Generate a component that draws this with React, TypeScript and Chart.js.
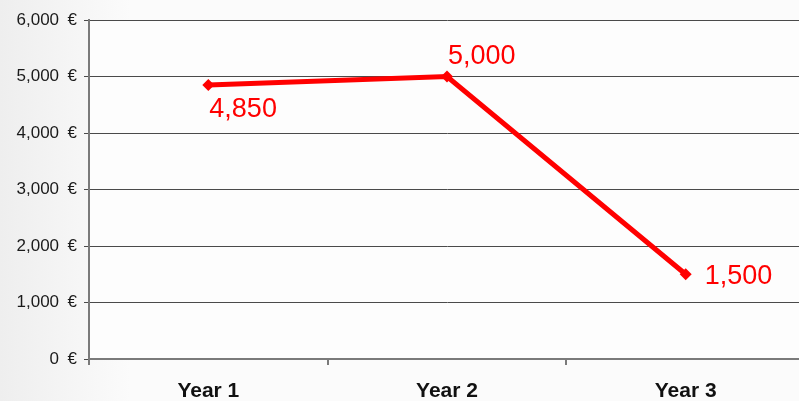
import React, { useEffect, useRef } from "react";
import { Chart, registerables } from "chart.js";

Chart.register(...registerables);

const categories = ["Year 1", "Year 2", "Year 3"];
const values = [4850, 5000, 1500];
const labelPlacement = ["below", "above", "right"];
const yTicks = [0, 1000, 2000, 3000, 4000, 5000, 6000];

const FONT = "'Liberation Sans', Arial, sans-serif";

const bgPlugin = {
  id: "bgPlugin",
  beforeDraw(chart: any) {
    const { ctx, width, height, chartArea } = chart;
    ctx.save();
    const g = ctx.createLinearGradient(0, 0, 130, 0);
    g.addColorStop(0, "#eeeeee");
    g.addColorStop(1, "#fbfbfb");
    ctx.fillStyle = g;
    ctx.fillRect(0, 0, width, height);
    ctx.fillStyle = "#fdfdfd";
    ctx.fillRect(chartArea.left, chartArea.top, chartArea.right - chartArea.left, chartArea.bottom - chartArea.top);
    ctx.restore();
  },
};

const labelPlugin = {
  id: "labelPlugin",
  afterDatasetsDraw(chart: any) {
    const { ctx } = chart;
    const meta = chart.getDatasetMeta(0);
    ctx.save();
    ctx.font = `27px ${FONT}`;
    ctx.fillStyle = "#ff0000";
    ctx.textAlign = "left";
    meta.data.forEach((pt: any, i: number) => {
      const text = values[i].toLocaleString("en-US");
      const place = labelPlacement[i];
      let x = pt.x;
      let y = pt.y;
      if (place === "below") {
        x = pt.x + 1;
        y = pt.y + 25;
      } else if (place === "above") {
        x = pt.x + 1;
        y = pt.y - 20;
      } else {
        x = pt.x + 19;
        y = pt.y + 2;
      }
      ctx.textBaseline = "middle";
      ctx.fillText(text, x, y);
    });
    ctx.restore();
  },
};

export default function App() {
  const ref = useRef<HTMLCanvasElement>(null);
  useEffect(() => {
    if (!ref.current) return;
    const chart = new Chart(ref.current, {
      type: "line",
      data: {
        labels: categories,
        datasets: [
          {
            data: values,
            borderColor: "#ff0000",
            backgroundColor: "#ff0000",
            borderWidth: 5,
            pointStyle: "rectRot",
            pointRadius: 6,
            pointBorderWidth: 0,
            tension: 0,
            fill: false,
          },
        ],
      },
      options: {
        animation: false,
        responsive: false,
        devicePixelRatio: 1,
        layout: { padding: { left: 0, top: 20, right: 0, bottom: 0 } },
        plugins: { legend: { display: false }, tooltip: { enabled: false } },
        scales: {
          x: {
            offset: true,
            grid: {
              offset: true,
              drawOnChartArea: false,
              drawTicks: true,
              tickLength: 6,
              color: "#7a7a7a",
              lineWidth: 2,
            },
            border: { display: true, color: "#7a7a7a", width: 2 },
            ticks: {
              color: "#111111",
              padding: 14,
              font: { family: FONT, size: 21, weight: "bold" },
            },
            afterFit(scale: any) {
              scale.height = 42;
            },
          },
          y: {
            min: 0,
            max: 6000,
            afterBuildTicks(scale: any) {
              scale.ticks = yTicks.map((v) => ({ value: v }));
            },
            grid: {
              color: "#4a4a4a",
              lineWidth: 1,
              tickLength: 5,
              drawTicks: true,
            },
            border: { display: true, color: "#7a7a7a", width: 2 },
            ticks: {
              color: "#1a1a1a",
              padding: 7,
              font: { family: FONT, size: 17 },
              callback: (v: any) => Number(v).toLocaleString("en-US") + "\u2002€",
            },
            afterFit(scale: any) {
              scale.width = 89;
            },
          },
        },
      },
      plugins: [bgPlugin, labelPlugin],
    });
    return () => chart.destroy();
  }, []);
  return (
    <div style={{ position: "fixed", left: 0, top: 0, width: 799, height: 401, overflow: "hidden" }}>
      <canvas ref={ref} width={811} height={401} style={{ display: "block" }} />
    </div>
  );
}
